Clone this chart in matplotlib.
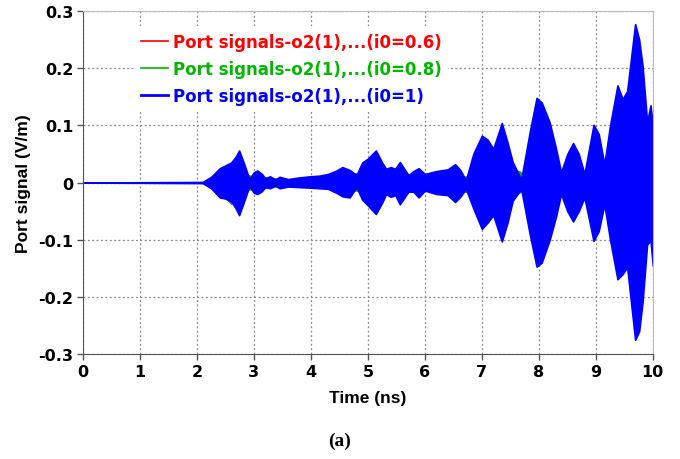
import numpy as np
import matplotlib
matplotlib.use("Agg")
import matplotlib.pyplot as plt
from matplotlib.lines import Line2D

# envelope of the i0=1 signal (time in ns, V/m)
t_blue = [0, 2.1, 2.25, 2.4, 2.5, 2.6, 2.68, 2.74, 2.82, 2.92, 3.0, 3.06, 3.14, 3.2,
          3.28, 3.37, 3.45, 3.6, 3.8, 4.0, 4.15, 4.3, 4.45, 4.55, 4.68, 4.8, 4.9, 5.0,
          5.14, 5.25, 5.32, 5.4, 5.48, 5.56, 5.71, 5.8, 5.89, 6.0, 6.2, 6.4, 6.53, 6.62,
          6.72, 6.85, 7.0, 7.1, 7.2, 7.35, 7.45, 7.54, 7.69, 7.84, 7.96, 8.05, 8.19, 8.3,
          8.39, 8.5, 8.6, 8.7, 8.8, 8.96, 9.05, 9.15, 9.25, 9.38, 9.47, 9.55, 9.69, 9.76,
          9.82, 9.9, 9.96, 10.0]
top_blue = [0, 0.001, 0.01, 0.025, 0.03, 0.035, 0.045, 0.056, 0.035, 0.006, 0.018, 0.021,
            0.015, 0.007, 0.011, 0.005, 0.01, 0.006, 0.009, 0.011, 0.012, 0.015, 0.021,
            0.027, 0.022, 0.013, 0.035, 0.042, 0.056, 0.035, 0.024, 0.027, 0.024, 0.036,
            0.013, 0.02, 0.025, 0.015, 0.02, 0.023, 0.032, 0.022, 0.004, 0.05, 0.082,
            0.075, 0.059, 0.104, 0.07, 0.036, 0.005, 0.088, 0.148, 0.14, 0.105, 0.06,
            0.018, 0.05, 0.069, 0.05, 0.015, 0.101, 0.085, 0.032, 0.1, 0.17, 0.146, 0.16,
            0.277, 0.25, 0.204, 0.106, 0.135, 0.1]
bot_blue = [0, -0.001, -0.01, -0.026, -0.028, -0.033, -0.045, -0.057, -0.035, -0.006,
            -0.018, -0.02, -0.015, -0.008, -0.01, -0.005, -0.01, -0.007, -0.008, -0.009,
            -0.01, -0.011, -0.018, -0.024, -0.026, -0.008, -0.03, -0.04, -0.055, -0.035,
            -0.02, -0.025, -0.022, -0.038, -0.016, -0.016, -0.026, -0.014, -0.02, -0.022,
            -0.034, -0.025, -0.011, -0.045, -0.081, -0.07, -0.057, -0.103, -0.07, -0.032,
            -0.011, -0.09, -0.147, -0.14, -0.1, -0.06, -0.02, -0.05, -0.068, -0.05,
            -0.026, -0.102, -0.085, -0.038, -0.1, -0.169, -0.16, -0.148, -0.275, -0.26,
            -0.209, -0.108, -0.102, -0.145]

# i0=0.8 only shows at the nodes of the blue trace
t_green = [0, 2.1, 2.4, 2.6, 2.75, 2.92, 3.1, 3.35, 3.6, 4.0, 4.4, 4.8, 5.0, 5.5, 6.0,
           6.4, 6.72, 7.0, 7.4, 7.69, 7.8, 10.0]
top_green = [0, 0, 0.015, 0.022, 0.02, 0.012, 0.01, 0.008, 0.004, 0.006, 0.01, 0.016,
             0.02, 0.01, 0.01, 0.015, 0.01, 0.03, 0.03, 0.018, 0.008, 0.008]
bot_green = [0, 0, -0.015, -0.037, -0.02, -0.012, -0.01, -0.008, -0.004, -0.006, -0.01,
             -0.014, -0.02, -0.01, -0.01, -0.015, -0.016, -0.03, -0.03, -0.016, -0.008,
             -0.008]

labels = ["Port signals-o2(1),...(i0=0.6)", "Port signals-o2(1),...(i0=0.8)",
          "Port signals-o2(1),...(i0=1)"]
xticks = [0, 1, 2, 3, 4, 5, 6, 7, 8, 9, 10]
yticks = [-0.3, -0.2, -0.1, 0, 0.1, 0.2, 0.3]
ylabels = ["-0.3", "-0.2", "-0.1", "0", "0.1", "0.2", "0.3"]

red = "#ff0000"
green = "#00b400"
blue = "#0000ff"

fig = plt.figure(figsize=(6.8, 4.6), dpi=100)
ax = fig.add_axes([0.122, 0.228, 0.838, 0.746])

# red trace lies completely under the green one
ax.fill_between(t_green, bot_green, top_green, color=red, lw=0.8)
ax.fill_between(t_green, bot_green, top_green, color=green, lw=0.8)
ax.fill_between(t_blue, bot_blue, top_blue, color=blue, lw=1.2)

ax.set_xlim(0, 10)
ax.set_ylim(-0.3, 0.3)
ax.set_xticks(xticks)
ax.set_yticks(yticks)
ax.set_yticklabels(ylabels)
ax.grid(True, ls=(0, (1.5, 2)), color="#888888", lw=0.9)
ax.set_axisbelow(True)
for lab in ax.get_xticklabels() + ax.get_yticklabels():
    lab.set_fontweight("bold")
    lab.set_fontsize(11.5)
    lab.set_family("DejaVu Sans")
ax.tick_params(length=4, width=1, color="#555555", pad=3)
for s in ["left", "bottom"]:
    ax.spines[s].set_color("#555555")
for s in ["top", "right"]:
    ax.spines[s].set_color("#bbbbbb")

ax.set_xlabel("Time (ns)", family="Liberation Sans", fontweight="bold", fontsize=12.5,
              labelpad=8)
ax.set_ylabel("Port signal (V/m)", family="Liberation Sans", fontweight="bold",
              fontsize=12.5, labelpad=5)

# legend sits on a white box that hides the grid behind it
handles = [Line2D([], [], color=red, lw=1.2), Line2D([], [], color=green, lw=1.2),
           Line2D([], [], color=blue, lw=2)]
leg = ax.legend(handles, labels, loc="upper left", bbox_to_anchor=(0.076, 0.98),
                frameon=True, fancybox=False, facecolor="white", edgecolor="none",
                framealpha=1, handlelength=1.6, handletextpad=0.3, labelspacing=0.55,
                prop={"family": "DejaVu Sans", "weight": "bold", "size": 12})
for txt, c in zip(leg.get_texts(), [red, green, blue]):
    txt.set_color(c)

fig.text(0.5, 0.03, "(a)", family="Liberation Serif", fontweight="bold", fontsize=14,
         ha="center")

fig.savefig("out.png", dpi=100)
